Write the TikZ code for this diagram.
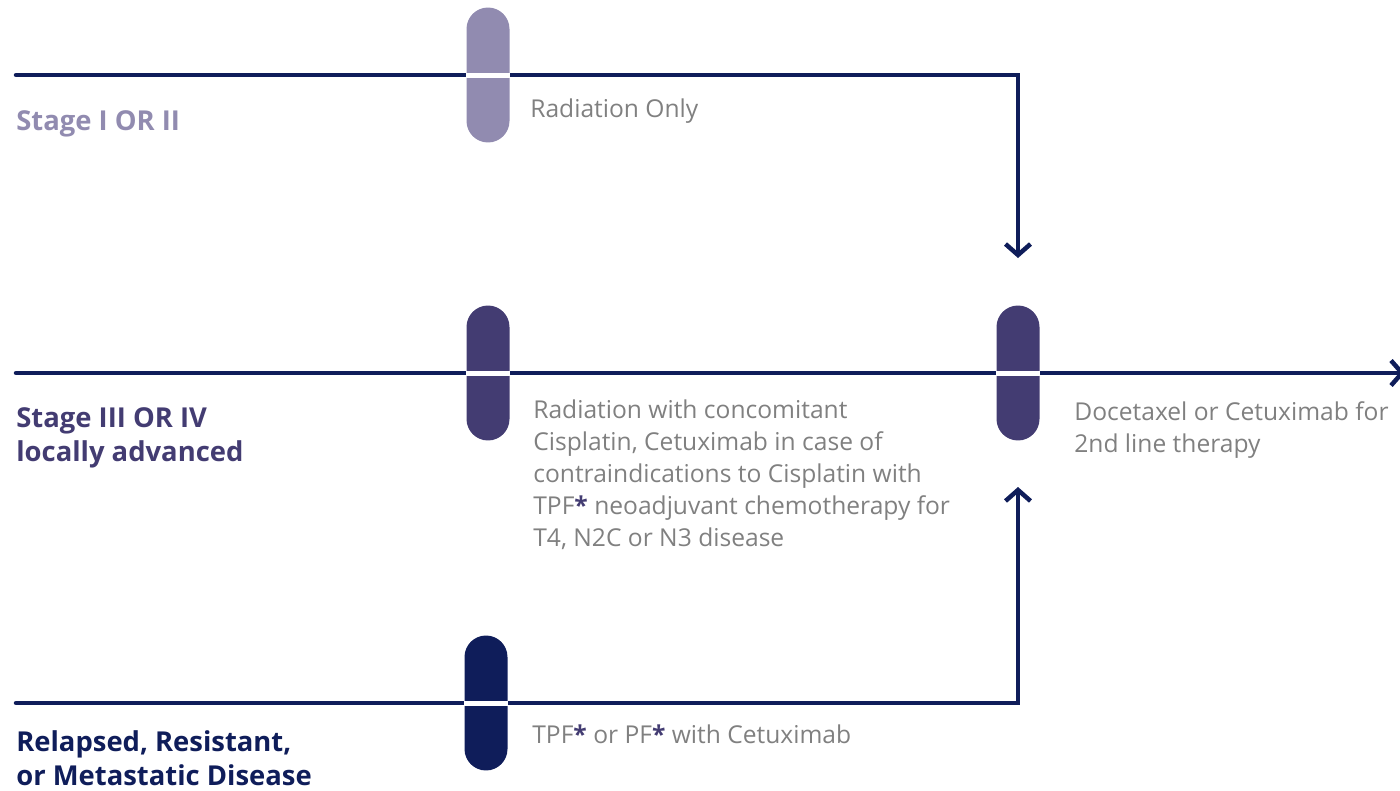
\documentclass[tikz,border=0pt]{standalone}
\usepackage{fontspec}
\setmainfont{Open Sans}
\usepackage{xcolor}
\usepackage{tikz}
\usetikzlibrary{positioning,arrows.meta}

\definecolor{navy}{HTML}{0F1D5A}
\definecolor{lilac}{HTML}{918BB0}
\definecolor{plum}{HTML}{433C72}
\definecolor{txtgray}{HTML}{808080}
\newcommand{\bstar}{{\bfseries\color{plum}*}}

\begin{document}
\begin{tikzpicture}[x=0.02cm, y=-0.02cm,
    flow/.style={draw=navy, line width=0.09cm, line cap=round},
    tip/.style={-{Straight Barb[length=0.22cm, width=0.5cm]}},
    pill/.style={rectangle, rounded corners=0.43cm, minimum width=0.86cm, minimum height=2.7cm, inner sep=0pt},
    band/.style={draw=white, line width=0.1cm},
    stage/.style={anchor=base west, align=left, inner sep=0pt, font=\fontsize{15.6}{19}\selectfont\bfseries},
    therapy/.style={anchor=base west, align=left, inner sep=0pt, text=txtgray, font=\fontsize{14}{18.1}\selectfont}]
    \useasboundingbox (0,0) rectangle (1400,791);
    \clip (0,0) rectangle (1400,791);

    % Line ends
    \coordinate (s1) at (16,75);
    \coordinate (a1) at (1018,258);
    \coordinate (s2) at (16,373);
    \coordinate (e2) at (1405,373);
    \coordinate (s3) at (16,703);
    \coordinate (a3) at (1018,487);

    % Lines
    \draw[flow, tip] (s1) -| (a1);
    \draw[flow, tip] (s2) -- (e2);
    \draw[flow, tip] (s3) -| (a3);

    % Pills
    \node[pill, fill=lilac] (p1) at (488,75) {};
    \node[pill, fill=plum] (p2) at (488,373) {};
    \node[pill, fill=plum] (p3) at (1018,373) {};
    \node[pill, fill=navy] (p4) at (486,703) {};
    \draw[band] (p1.west) -- (p1.east);
    \draw[band] (p2.west) -- (p2.east);
    \draw[band] (p3.west) -- (p3.east);
    \draw[band] (p4.west) -- (p4.east);

    % Stages (base = last line)
    \node[stage, text=lilac] (l1) at (16,130) {Stage I OR II};
    \node[stage, text=plum] (l2) at (16,461) {Stage III OR IV\\locally advanced};
    \node[stage, text=navy] (l3) at (16,785) {Relapsed, Resistant,\\or Metastatic Disease};

    % Therapies
    \node[therapy] (t1) at (530,117) {Radiation Only};
    \node[therapy] (t2) at (533,546) {Radiation with concomitant\\Cisplatin, Cetuximab in case of\\contraindications to Cisplatin with\\TPF\bstar{} neoadjuvant chemotherapy for\\T4, N2C or N3 disease};
    \node[therapy] (t3) at (1074,452) {Docetaxel or Cetuximab for\\2nd line therapy};
    \node[therapy] (t4) at (532,743) {TPF\bstar{} or PF\bstar{} with Cetuximab};
\end{tikzpicture}
\end{document}
